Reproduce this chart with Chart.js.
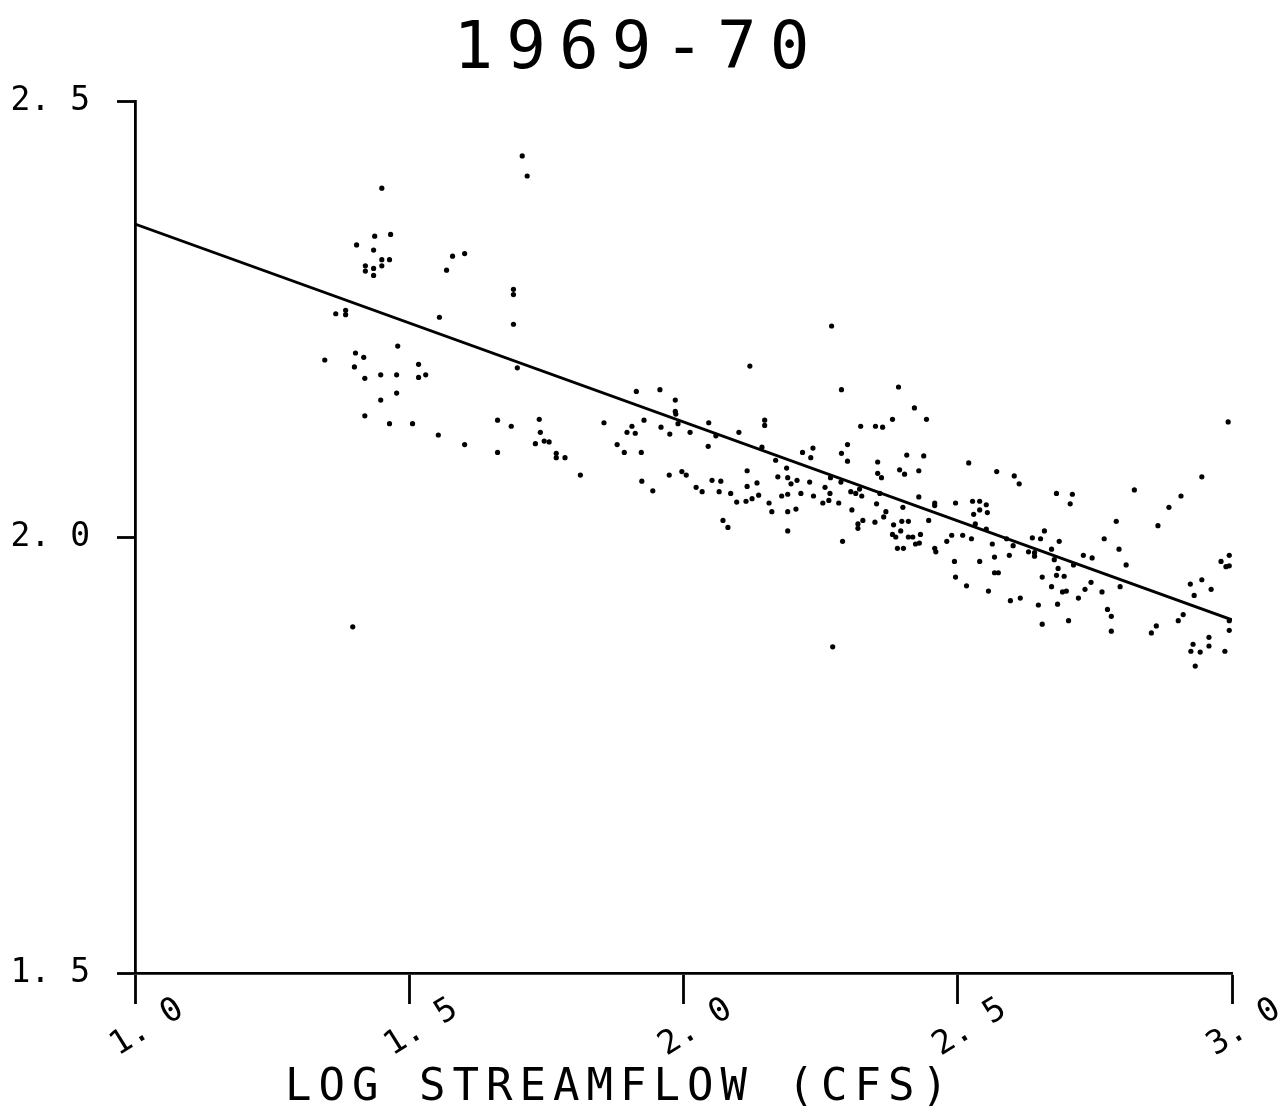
<!DOCTYPE html>
<html lang="en">
    <head>
        <meta charset="UTF-8" />
        <title>1969-70</title>
        <script src="https://cdn.jsdelivr.net/npm/chart.js"></script>
        <style>
            html, body { margin: 0; padding: 0; background: #fff; }
            canvas { display: block; }
        </style>
    </head>
    <body>
        <canvas id="scatterChart" width="1280" height="1114"></canvas>

        <script>
            const titleText = "1969-70";
            const xAxisTitle = "LOG STREAMFLOW (CFS)";
            const xTickValues = [1.0, 1.5, 2.0, 2.5, 3.0];
            const xTickLabels = ["1. 0", "1. 5", "2. 0", "2. 5", "3. 0"];

            const logFlow = [
                1.706, 1.715, 1.450, 1.437, 1.466, 1.404, 1.435, 1.450, 1.464, 1.450,
                1.420, 1.420, 1.435, 1.435, 1.579, 1.601, 1.568, 1.690, 1.690, 1.690,
                1.366, 1.384, 1.384, 1.555, 1.479, 1.346, 1.402, 1.417, 1.400, 1.419,
                1.448, 1.477, 1.517, 1.517, 1.530, 1.697, 1.448, 1.477, 1.419, 1.464,
                1.506, 1.553, 1.601, 1.661, 1.661, 1.686, 1.737, 1.739, 1.730, 1.746,
                1.755, 1.768, 1.768, 1.784, 1.812, 1.855, 1.879, 1.397,
                2.270, 2.121, 2.288, 2.392, 1.914, 1.957, 1.985, 1.985, 1.986, 1.990,
                1.906, 1.928, 1.897, 1.912, 1.959, 1.975, 2.012, 2.046, 2.059, 2.148,
                2.148, 2.101, 2.143, 2.381, 2.323, 2.350, 2.363, 2.299, 2.288, 2.299,
                2.407, 1.892, 1.923, 2.045, 2.217, 2.236, 2.232, 2.168, 2.188, 2.354,
                2.354, 2.361, 2.394, 2.403, 1.924, 1.974, 1.997, 2.005, 1.944, 2.023,
                2.034, 2.052, 2.068, 2.065, 2.086, 2.116, 2.116, 2.134, 2.097, 2.114,
                2.125, 2.137, 2.172, 2.190, 2.196, 2.207, 2.230, 2.268, 2.287, 2.258,
                2.267, 2.305, 2.314, 2.325, 2.321, 2.179, 2.190, 2.214, 2.237, 2.156,
                2.161, 2.190, 2.205, 2.254, 2.265, 2.283, 2.307, 2.352, 2.358, 2.369,
                2.365, 2.327, 2.318, 2.318, 2.349, 2.400, 2.398, 2.410, 2.383, 2.396,
                2.381, 2.387, 2.410, 2.390, 2.401, 2.072, 2.081, 2.190, 2.290, 2.272,
                2.421, 2.443, 2.993, 2.438, 2.429, 2.520, 2.571, 2.603, 2.612, 2.429,
                2.458, 2.458, 2.496, 2.527, 2.540, 2.529, 2.540, 2.552, 2.554, 2.680,
                2.709, 2.705, 2.822, 2.907, 2.885, 2.945, 2.418, 2.432, 2.423, 2.430,
                2.447, 2.458, 2.460, 2.480, 2.489, 2.509, 2.525, 2.532, 2.552, 2.563,
                2.567, 2.567, 2.574, 2.540, 2.494, 2.496, 2.516, 2.556, 2.594, 2.601,
                2.589, 2.629, 2.640, 2.640, 2.636, 2.651, 2.658, 2.671, 2.685, 2.676,
                2.683, 2.680, 2.694, 2.654, 2.671, 2.691, 2.698, 2.711, 2.729, 2.745,
                2.743, 2.732, 2.720, 2.763, 2.767, 2.789, 2.794, 2.807, 2.796, 2.865,
                2.614, 2.596, 2.647, 2.682, 2.654, 2.702, 2.773, 2.780, 2.780, 2.853,
                2.862, 2.902, 2.911, 2.924, 2.931, 2.945, 2.962, 2.980, 2.995, 2.989,
                2.995, 2.995, 2.995, 2.929, 2.925, 2.942, 2.958, 2.958, 2.933, 2.987
            ];
            const logValue = [
                2.437, 2.414, 2.400, 2.345, 2.347, 2.335, 2.329, 2.318, 2.318, 2.311,
                2.311, 2.305, 2.308, 2.300, 2.322, 2.325, 2.306, 2.284, 2.278, 2.244,
                2.256, 2.260, 2.255, 2.252, 2.219, 2.203, 2.211, 2.206, 2.195, 2.182,
                2.186, 2.186, 2.198, 2.183, 2.186, 2.194, 2.157, 2.165, 2.139, 2.130,
                2.130, 2.117, 2.106, 2.134, 2.097, 2.127, 2.135, 2.120, 2.107, 2.110,
                2.109, 2.096, 2.091, 2.091, 2.071, 2.131, 2.106, 1.897,
                2.242, 2.196, 2.169, 2.172, 2.167, 2.169, 2.157, 2.144, 2.141, 2.130,
                2.127, 2.134, 2.120, 2.119, 2.126, 2.118, 2.120, 2.131, 2.116, 2.134,
                2.128, 2.120, 2.103, 2.135, 2.127, 2.127, 2.126, 2.106, 2.096, 2.087,
                2.094, 2.097, 2.097, 2.104, 2.097, 2.102, 2.091, 2.088, 2.079, 2.086,
                2.073, 2.068, 2.077, 2.072, 2.064, 2.071, 2.075, 2.071, 2.053, 2.057,
                2.052, 2.065, 2.064, 2.052, 2.050, 2.076, 2.058, 2.062, 2.040, 2.041,
                2.044, 2.048, 2.069, 2.068, 2.061, 2.065, 2.063, 2.068, 2.063, 2.057,
                2.050, 2.052, 2.050, 2.047, 2.055, 2.047, 2.049, 2.050, 2.047, 2.039,
                2.029, 2.029, 2.032, 2.039, 2.042, 2.039, 2.031, 2.038, 2.050, 2.029,
                2.023, 2.019, 2.015, 2.010, 2.017, 2.034, 2.018, 2.018, 2.014, 2.007,
                2.003, 2.000, 2.000, 1.987, 1.987, 2.019, 2.011, 2.007, 1.995, 1.874,
                2.148, 2.135, 2.132, 2.093, 2.076, 2.085, 2.075, 2.070, 2.061, 2.046,
                2.039, 2.036, 2.039, 2.041, 2.041, 2.026, 2.031, 2.037, 2.028, 2.050,
                2.049, 2.038, 2.054, 2.047, 2.034, 2.069, 2.000, 2.003, 1.992, 1.993,
                2.019, 1.987, 1.983, 1.995, 2.002, 2.002, 1.998, 2.015, 2.009, 1.992,
                1.977, 1.959, 1.959, 1.972, 1.972, 1.954, 1.944, 1.938, 1.979, 1.990,
                1.998, 1.983, 1.982, 1.978, 1.999, 1.998, 2.007, 1.986, 1.995, 1.974,
                1.964, 1.956, 1.955, 1.954, 1.943, 1.937, 1.938, 1.968, 1.979, 1.976,
                1.948, 1.940, 1.930, 1.937, 1.998, 2.018, 1.986, 1.968, 1.943, 2.013,
                1.930, 1.927, 1.922, 1.923, 1.900, 1.904, 1.917, 1.909, 1.892, 1.890,
                1.898, 1.904, 1.911, 1.946, 1.933, 1.951, 1.940, 1.972, 1.979, 1.966,
                1.967, 1.904, 1.893, 1.877, 1.869, 1.868, 1.885, 1.875, 1.852, 1.869
            ];

            // fitted line end points
            const fitX = [1.0, 3.0];
            const fitY = [2.359, 1.905];

            const plotterFont = '"DejaVu Sans Mono", monospace';

            // title, rotated x tick labels and axis title in plotter style
            const plotterText = {
                id: "plotterText",
                afterDraw(chart) {
                    const { ctx } = chart;
                    const xScale = chart.scales.x;
                    ctx.save();
                    ctx.fillStyle = "#000";
                    ctx.textBaseline = "alphabetic";

                    ctx.font = `66px ${plotterFont}`;
                    ctx.letterSpacing = "13px";
                    ctx.textAlign = "center";
                    ctx.fillText(titleText, 638, 68);

                    ctx.font = `44px ${plotterFont}`;
                    ctx.letterSpacing = "7px";
                    ctx.fillText(xAxisTitle, 620, 1100);

                    ctx.font = `33px ${plotterFont}`;
                    ctx.letterSpacing = "0px";
                    ctx.textAlign = "left";
                    xTickValues.forEach((v, i) => {
                        const px = xScale.getPixelForValue(v);
                        ctx.save();
                        ctx.translate(px - 17, 1056);
                        ctx.rotate(-32 * Math.PI / 180);
                        ctx.fillText(xTickLabels[i], 0, 0);
                        ctx.restore();
                    });
                    ctx.restore();
                },
            };

            const ctx = document.getElementById("scatterChart").getContext("2d");

            new Chart(ctx, {
                data: {
                    datasets: [
                        {
                            type: "scatter",
                            data: logFlow.map((x, i) => ({ x: x, y: logValue[i] })),
                            backgroundColor: "#000",
                            borderWidth: 0,
                            pointRadius: 2.6,
                        },
                        {
                            type: "line",
                            data: fitX.map((x, i) => ({ x: x, y: fitY[i] })),
                            borderColor: "#000",
                            borderWidth: 2.8,
                            pointRadius: 0,
                            fill: false,
                        },
                    ],
                },
                options: {
                    responsive: false,
                    animation: false,
                    layout: { padding: { top: 101, right: 48, left: 0, bottom: 0 } },
                    plugins: {
                        legend: { display: false },
                        tooltip: { enabled: false },
                        title: { display: false },
                    },
                    scales: {
                        x: {
                            type: "linear",
                            min: 1.0,
                            max: 3.0,
                            afterFit(scale) { scale.height = 141; },
                            afterBuildTicks(scale) {
                                scale.ticks = xTickValues.map((v) => ({ value: v }));
                            },
                            ticks: { display: false },
                            grid: {
                                drawOnChartArea: false,
                                tickLength: 31,
                                tickWidth: 2.8,
                                tickColor: "#000",
                            },
                            border: { display: true, color: "#000", width: 2.8 },
                        },
                        y: {
                            min: 1.5,
                            max: 2.5,
                            afterFit(scale) { scale.width = 135; },
                            ticks: {
                                stepSize: 0.5,
                                padding: 27,
                                color: "#000",
                                font: { family: plotterFont, size: 33 },
                                callback: (v) => v.toFixed(1).replace(".", ". "),
                            },
                            grid: {
                                drawOnChartArea: false,
                                tickLength: 18,
                                tickWidth: 2.8,
                                tickColor: "#000",
                            },
                            border: { display: true, color: "#000", width: 2.8 },
                        },
                    },
                },
                plugins: [plotterText],
            });
        </script>
    </body>
</html>
